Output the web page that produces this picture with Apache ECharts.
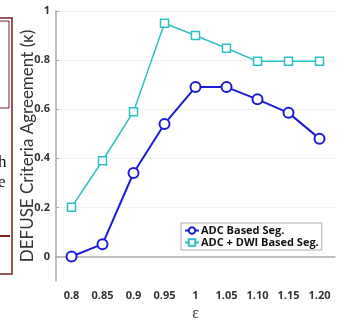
<!DOCTYPE html>
<html>
<head>
<meta charset="utf-8">
<script src="https://cdn.jsdelivr.net/npm/echarts@6/dist/echarts.min.js"></script>
<style>
  html, body { margin: 0; padding: 0; background: #fff; }
  #chart { width: 345px; height: 327px; }
</style>
</head>
<body>
<div id="chart"></div>
<script>
const epsilons = ['0.8', '0.85', '0.9', '0.95', '1', '1.05', '1.10', '1.15', '1.20'];
const adcSeg = [0, 0.05, 0.34, 0.54, 0.69, 0.69, 0.64, 0.585, 0.48];
const adcDwiSeg = [0.2, 0.39, 0.59, 0.95, 0.9, 0.848, 0.795, 0.795, 0.795];
const yTicks = [0, 0.2, 0.4, 0.6, 0.8, 1];

const chart = echarts.init(document.getElementById('chart'));
const brown = '#7b1f1f';
const blue = '#1c1cd6';
const cyan = '#2cc0c0';

const option = {
    animation: false,
    backgroundColor: '#fff',
    grid: { left: 56, right: 10, top: 11, bottom: 39 },
    // bits of the neighbouring figure cut off at the left edge
    graphic: [
        { type: 'polyline', shape: { points: [[0, 18], [12, 18], [12, 274], [0, 274]] },
          style: { stroke: brown, lineWidth: 1.5, fill: null } },
        { type: 'polyline', shape: { points: [[0, 21], [9, 21], [9, 108], [0, 108]] },
          style: { stroke: brown, lineWidth: 1, fill: null } },
        { type: 'line', shape: { x1: 0, y1: 236, x2: 10, y2: 236 },
          style: { stroke: brown, lineWidth: 2 } },
        { type: 'text', left: -2, top: 154,
          style: { text: 'h', font: '17px "Liberation Serif"', fill: '#111' } },
        { type: 'text', left: -2, top: 174,
          style: { text: 'e', font: '17px "Liberation Serif"', fill: '#111' } }
    ],
    legend: {
        left: 181,
        top: 223,
        orient: 'vertical',
        itemGap: 1,
        itemWidth: 14,
        itemHeight: 8,
        padding: [2, 3, 2, 3],
        borderColor: '#aaa',
        borderWidth: 1,
        backgroundColor: '#fff',
        textStyle: { fontSize: 11, fontWeight: 'bold', color: '#111', fontFamily: 'Open Sans', padding: [0, 0, 0, -3] },
        data: ['ADC Based Seg.', 'ADC + DWI Based Seg.']
    },
    xAxis: {
        type: 'category',
        data: epsilons,
        boundaryGap: true,
        name: 'ε',
        nameLocation: 'middle',
        nameGap: 25,
        nameTextStyle: { fontSize: 16, fontFamily: 'Liberation Serif', color: '#333' },
        axisLine: { lineStyle: { color: '#aaa', width: 1.5 } },
        axisTick: { alignWithLabel: true, inside: true, length: 3, lineStyle: { color: '#aaa' } },
        axisLabel: { fontSize: 11, fontWeight: 'bold', color: '#333', margin: 9, fontFamily: 'Open Sans' },
        splitLine: { show: false }
    },
    yAxis: {
        type: 'value',
        min: -0.1,
        max: 1,
        name: 'DEFUSE Criteria Agreement (κ)',
        nameLocation: 'middle',
        nameGap: 20,
        nameMoveOverlap: false,
        nameTextStyle: { fontSize: 17, fontFamily: 'Lato', color: '#333' },
        axisLine: { show: true, lineStyle: { color: '#aaa', width: 1.5 } },
        axisTick: { show: true, inside: true, length: 3, customValues: yTicks, lineStyle: { color: '#aaa' } },
        axisLabel: { fontSize: 11, fontWeight: 'bold', color: '#333', margin: 6, fontFamily: 'Open Sans',
            customValues: yTicks },
        splitLine: { show: true, lineStyle: { color: '#e4e4e4', type: 'dotted', width: 1 } }
    },
    series: [
        {
            name: 'ADC Based Seg.',
            type: 'line',
            data: adcSeg,
            symbol: 'circle',
            symbolSize: 10,
            lineStyle: { width: 2, color: blue },
            itemStyle: { color: '#fff', borderColor: blue, borderWidth: 2 },
            z: 3
        },
        {
            name: 'ADC + DWI Based Seg.',
            type: 'line',
            data: adcDwiSeg,
            symbol: 'rect',
            symbolSize: 8,
            lineStyle: { width: 1.5, color: cyan },
            itemStyle: { color: '#fff', borderColor: cyan, borderWidth: 1.5 },
            z: 2
        }
    ]
};

chart.setOption(option);
</script>
</body>
</html>
